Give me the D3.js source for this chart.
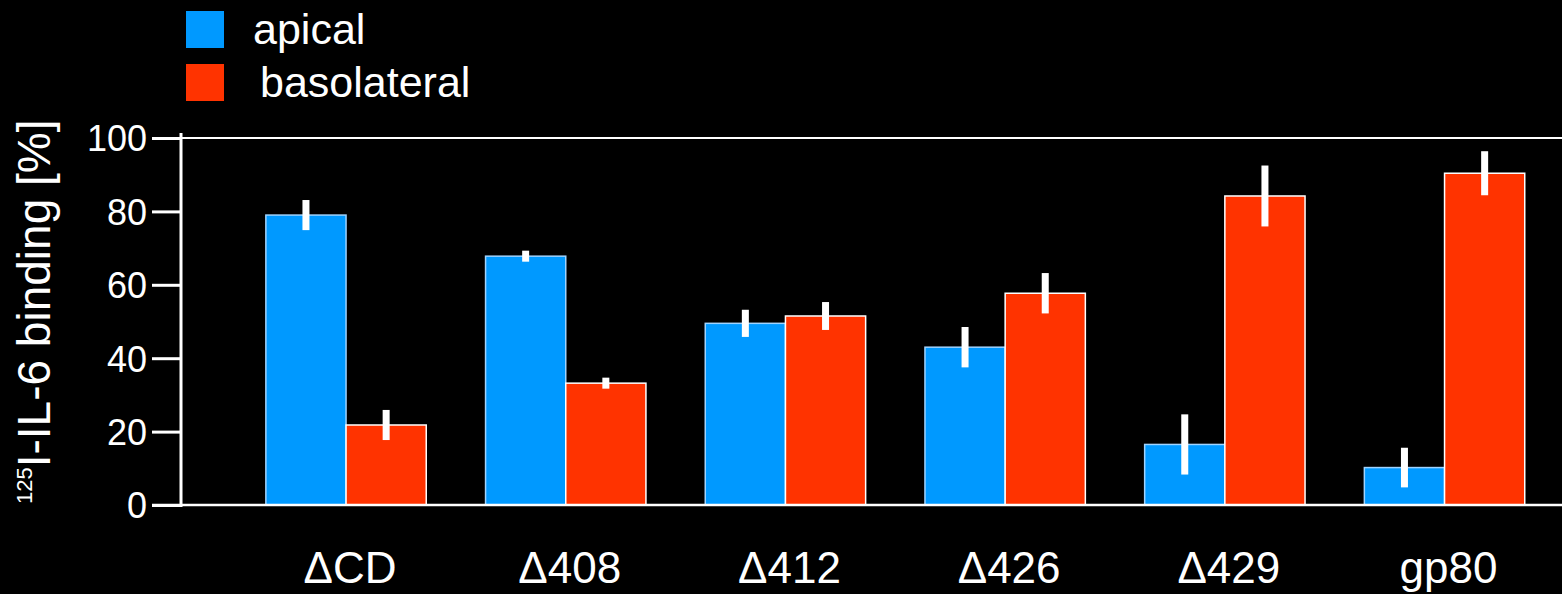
<!DOCTYPE html>
<html>
<head>
<meta charset="utf-8">
<script src="https://cdn.jsdelivr.net/npm/d3@7"></script>
<style>
  html, body { margin: 0; padding: 0; background: #000; }
  svg { display: block; }
  text { font-family: "Liberation Sans", Arial, Helvetica, sans-serif; fill: #fff; }
</style>
</head>
<body>
<svg id="chart" width="1562" height="594"></svg>
<script>
const categories = ["ΔCD", "Δ408", "Δ412", "Δ426", "Δ429", "gp80"];
const seriesNames = ["apical", "basolateral"];
const apical = [79.0, 67.8, 49.5, 43.0, 16.5, 10.2];
const apicalErr = [4.1, 1.5, 3.7, 5.5, 8.2, 5.4];
const basolateral = [21.8, 33.2, 51.5, 57.7, 84.2, 90.4];
const basolateralErr = [4.1, 1.5, 3.8, 5.5, 8.3, 6.0];
const yTicks = [0, 20, 40, 60, 80, 100];

const colors = { apical: "#0099FF", basolateral: "#FF3300" };
const strokes = { apical: "#9fd3ff", basolateral: "#ffffff" };

const svg = d3.select("#chart");
const W = 1562;

const y = d3.scaleLinear().domain([0, 100]).range([505, 138]);
const x0 = d3.scaleBand().domain(categories).range([236.2, 1554.4])
  .paddingInner(0.27).paddingOuter(0.135);
const x1 = d3.scaleBand().domain(seriesNames).range([0, x0.bandwidth()]);

const rows = categories.map((c, i) => ({
  cat: c,
  vals: [
    { key: "apical", v: apical[i], e: apicalErr[i] },
    { key: "basolateral", v: basolateral[i], e: basolateralErr[i] }
  ]
}));

// top frame line
svg.append("line").attr("x1", 181).attr("x2", W).attr("y1", y(100)).attr("y2", y(100))
  .attr("stroke", "#fff").attr("stroke-width", 2);

// bars
const g = svg.selectAll("g.grp").data(rows).join("g")
  .attr("class", "grp")
  .attr("transform", d => `translate(${x0(d.cat)},0)`);

g.selectAll("rect.bar").data(d => d.vals).join("rect")
  .attr("class", "bar")
  .attr("x", d => x1(d.key))
  .attr("width", x1.bandwidth())
  .attr("y", d => y(d.v))
  .attr("height", d => y(0) - y(d.v))
  .attr("fill", d => colors[d.key])
  .attr("stroke", d => strokes[d.key])
  .attr("stroke-width", 1.5);

// error bars
const ebW = 7;
g.selectAll("rect.err").data(d => d.vals).join("rect")
  .attr("class", "err")
  .attr("x", d => x1(d.key) + x1.bandwidth() / 2 - ebW / 2)
  .attr("width", ebW)
  .attr("y", d => y(d.v + d.e))
  .attr("height", d => y(d.v - d.e) - y(d.v + d.e))
  .attr("fill", "#fff");

// bottom baseline
svg.append("line").attr("x1", 152).attr("x2", W).attr("y1", y(0)).attr("y2", y(0))
  .attr("stroke", "#fff").attr("stroke-width", 2.5);

// y axis
const yAxis = d3.axisLeft(y).tickValues(yTicks).tickSize(29).tickSizeOuter(0).tickPadding(5);
const ya = svg.append("g").attr("transform", "translate(181,0)").call(yAxis);
ya.select(".domain").remove();
ya.selectAll(".tick line").attr("stroke", "#fff").attr("stroke-width", 3);
ya.selectAll(".tick text")
  .style("font-family", '"Liberation Sans", Arial, sans-serif')
  .style("font-size", "36px").attr("fill", "#fff").attr("dy", "0.36em");
svg.append("line").attr("x1", 181).attr("x2", 181).attr("y1", 133).attr("y2", 507)
  .attr("stroke", "#fff").attr("stroke-width", 3);

// x axis labels
const xAxis = d3.axisBottom(x0).tickSize(0).tickPadding(0);
const xa = svg.append("g").attr("transform", "translate(4,583)").call(xAxis);
xa.select(".domain").remove();
xa.selectAll(".tick text")
  .style("font-family", '"Liberation Sans", Arial, sans-serif')
  .style("font-size", "44px").attr("fill", "#fff")
  .attr("y", 0).attr("dy", 0);

// y title
const yt = svg.append("text")
  .attr("transform", "translate(50,504) rotate(-90)")
  .attr("text-anchor", "start")
  .style("font-size", "46px");
yt.append("tspan").text("125").style("font-size", "22px").attr("dy", -18);
yt.append("tspan").text("I-IL-6 binding [%]").attr("dy", 18);

// legend
const legend = svg.append("g");
const legY = [11, 64];
const legTextX = [253, 260];
seriesNames.forEach((s, i) => {
  legend.append("rect").attr("x", 186).attr("y", legY[i]).attr("width", 38).attr("height", 37)
    .attr("fill", colors[s]);
  legend.append("text").attr("x", legTextX[i]).attr("y", legY[i] + 33)
    .style("font-size", "43px").text(s);
});
</script>
</body>
</html>
